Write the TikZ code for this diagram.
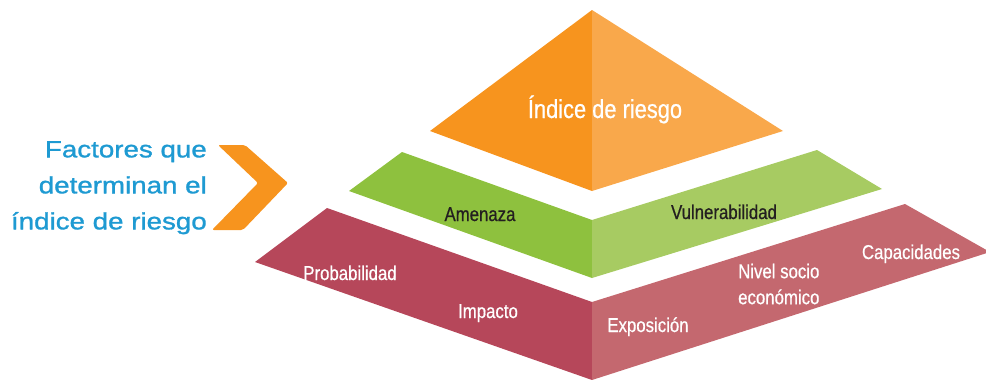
\documentclass[tikz,border=0pt]{standalone}
\usepackage{fontspec}
\setmainfont{Liberation Sans}
\newfontfamily\condfont[FakeStretch=0.84, FakeBold=0.6]{Liberation Sans}
\newfontfamily\widefont[FakeStretch=1.18, FakeBold=1.2]{Liberation Sans}
\definecolor{orangeL}{HTML}{F7941E}
\definecolor{orangeR}{HTML}{F9A84B}
\definecolor{greenL}{HTML}{8EC13E}
\definecolor{greenR}{HTML}{A7CB62}
\definecolor{redL}{HTML}{B6475A}
\definecolor{redR}{HTML}{C4686F}
\definecolor{factblue}{HTML}{1E9AD2}
\definecolor{labeldark}{HTML}{231F20}

\begin{document}
\begin{tikzpicture}[x=1pt, y=-1pt,
    lbl/.style={font=\condfont\fontsize{20}{26}\selectfont, inner sep=0pt},
    lblwhite/.style={lbl, text=white},
    lbldark/.style={lbl, text=labeldark}]
\useasboundingbox (0,0) rectangle (986,380);
\begin{scope}
\clip (0,0) rectangle (986,380);
\fill[orangeL] (592,10) -- (592,191) -- (430,131) -- cycle;
\fill[orangeR] (592,10) -- (783,131) -- (592,191) -- cycle;
\fill[greenL] (402,152) -- (592,220) -- (592,278) -- (349,191) -- cycle;
\fill[greenR] (592,220) -- (817,150) -- (882,189) -- (592,278) -- cycle;
\fill[redL] (327,208) -- (592,302) -- (592,380) -- (255,262) -- cycle;
\fill[redR] (592,302) -- (905,204) -- (990,252) -- (592,380) -- cycle;
\end{scope}
\fill[orangeL, rounded corners=2pt] (218,145) -- (245,145) -- (288,183) -- (243,230)
    -- (212,230) -- (258,183) -- cycle;
\node (factores) [anchor=north east, align=right, inner sep=0pt, text=factblue,
    font=\widefont\fontsize{23.5}{36}\selectfont] at (207,141)
    {Factores que\\determinan el\\índice de riesgo};
\node (indice) [lblwhite, anchor=base, font=\condfont\fontsize{26}{30}\selectfont] at (605,118) {Índice de riesgo};
\node (amenaza) [lbldark, anchor=base] at (480,221) {Amenaza};
\node (vulnerab) [lbldark, anchor=base] at (724,219) {Vulnerabilidad};
\node (probab) [lblwhite, anchor=base] at (350,280) {Probabilidad};
\node (impacto) [lblwhite, anchor=base] at (488,318) {Impacto};
\node (exposicion) [lblwhite, anchor=base] at (648,332) {Exposición};
\node (nivel) [lblwhite, anchor=north west, align=left] at (738,263.5) {Nivel socio\\económico};
\node (capacid) [lblwhite, anchor=base] at (911,259) {Capacidades};
\end{tikzpicture}
\end{document}
